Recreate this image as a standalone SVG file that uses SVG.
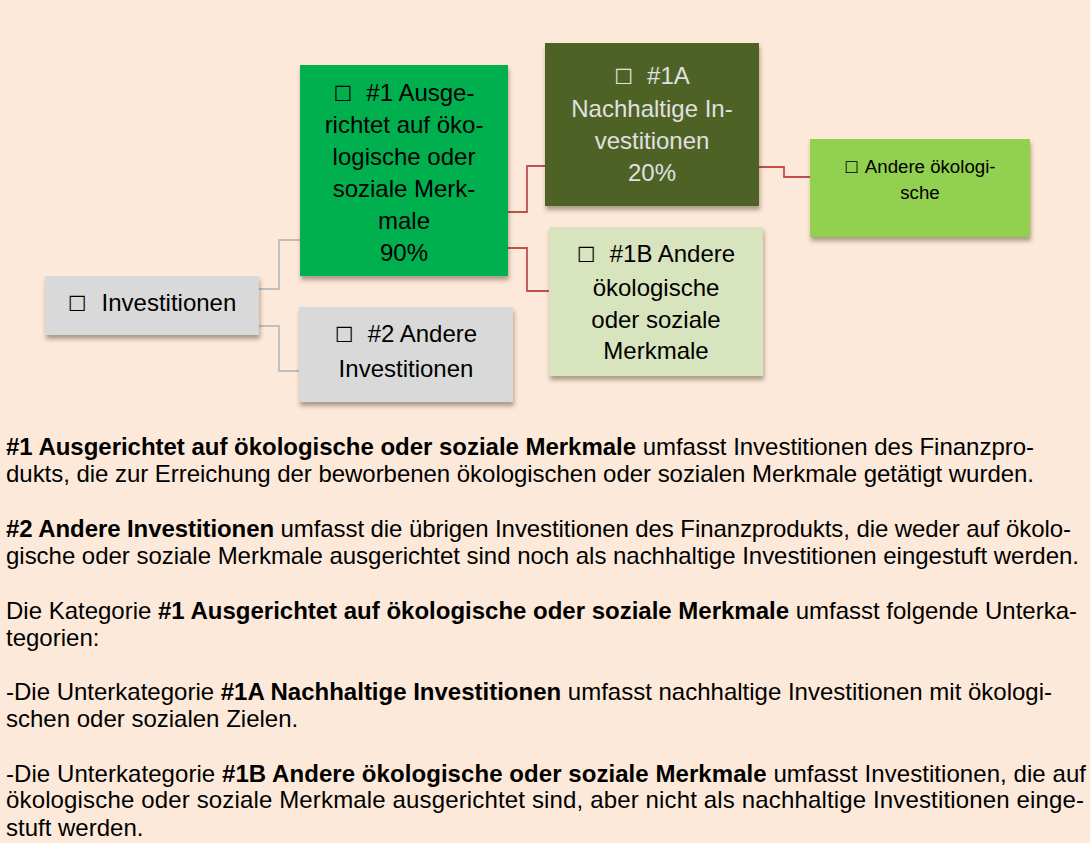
<svg xmlns="http://www.w3.org/2000/svg" width="1090" height="843" viewBox="0 0 1090 843">
<style>
.t{font-family:"Liberation Sans",Arial,sans-serif;font-size:24px;fill:#000}
.c{text-anchor:middle}
.w{fill:#E0E0E0}
.s{font-size:18.67px}
.cb{font-family:"DejaVu Sans",sans-serif;font-size:21px}
.b{font-weight:bold}
.gc{fill:none;stroke:#BFBFBF;stroke-width:1.8}
.rc{fill:none;stroke:#C0504D;stroke-width:1.8}
</style>
<defs>
<filter id="sh" x="-10%" y="-10%" width="130%" height="140%">
<feDropShadow dx="1" dy="4" stdDeviation="2" flood-color="#3a2a1a" flood-opacity="0.42"/>
</filter>
</defs>
<rect x="0" y="0" width="1090" height="843" fill="#FDE9D9"/>
<g id="connectors">
<path class="gc" d="M259,289 H279 V240 H300"/>
<path class="gc" d="M259,326 H279 V371 H299"/>
<path class="rc" d="M506,212 H527 V166 H545"/>
<path class="rc" d="M506,248 H527 V291 H549"/>
<path class="rc" d="M759,167 H784 V177 H810"/>
</g>
<g id="node-investitionen">
<rect x="45" y="276" width="214" height="59" fill="#D9D9D9" filter="url(#sh)"/>
<text class="t c" x="152" y="311"><tspan class="cb">☐</tspan><tspan dx="15">Investitionen</tspan></text>
</g>
<g id="node-1">
<rect x="300" y="65" width="208" height="211" fill="#00B050" filter="url(#sh)"/>
<text class="t c" x="404" y="101"><tspan class="cb">☐</tspan><tspan dx="14">#1 Ausge-</tspan></text>
<text class="t c" x="404" y="133">richtet auf öko-</text>
<text class="t c" x="404" y="165">logische oder</text>
<text class="t c" x="404" y="197">soziale Merk-</text>
<text class="t c" x="404" y="229">male</text>
<text class="t c" x="404" y="261">90%</text>
</g>
<g id="node-2">
<rect x="299" y="307" width="214" height="95" fill="#D9D9D9" filter="url(#sh)"/>
<text class="t c" x="406" y="342"><tspan class="cb">☐</tspan><tspan dx="14">#2 Andere</tspan></text>
<text class="t c" x="406" y="377">Investitionen</text>
</g>
<g id="node-1a">
<rect x="545" y="43" width="214" height="163" fill="#4F6228" filter="url(#sh)"/>
<text class="t c w" x="652" y="84"><tspan class="cb w">☐</tspan><tspan dx="14">#1A</tspan></text>
<text class="t c w" x="652" y="117">Nachhaltige In-</text>
<text class="t c w" x="652" y="149">vestitionen</text>
<text class="t c w" x="652" y="181">20%</text>
</g>
<g id="node-1b">
<rect x="549" y="227" width="214" height="149" fill="#D7E4BD" filter="url(#sh)"/>
<text class="t c" x="656" y="262"><tspan class="cb">☐</tspan><tspan dx="14">#1B Andere</tspan></text>
<text class="t c" x="656" y="296">ökologische</text>
<text class="t c" x="656" y="328">oder soziale</text>
<text class="t c" x="656" y="359">Merkmale</text>
</g>
<g id="node-andere">
<rect x="810" y="139" width="220" height="98" fill="#92D050" filter="url(#sh)"/>
<text class="t c s" x="920" y="173"><tspan class="cb" style="font-size:16px">☐</tspan><tspan dx="6">Andere ökologi-</tspan></text>
<text class="t c s" x="920" y="199">sche</text>
</g>
<g id="text">
<text class="t" x="6" y="455" textLength="1028" lengthAdjust="spacing"><tspan class="b">#1 Ausgerichtet auf ökologische oder soziale Merkmale</tspan> umfasst Investitionen des Finanzpro-</text>
<text class="t" x="6" y="482" textLength="1028" lengthAdjust="spacing">dukts, die zur Erreichung der beworbenen ökologischen oder sozialen Merkmale getätigt wurden.</text>
<text class="t" x="6" y="537" textLength="1065" lengthAdjust="spacing"><tspan class="b">#2 Andere Investitionen</tspan> umfasst die übrigen Investitionen des Finanzprodukts, die weder auf ökolo-</text>
<text class="t" x="6" y="564" textLength="1073" lengthAdjust="spacing">gische oder soziale Merkmale ausgerichtet sind noch als nachhaltige Investitionen eingestuft werden.</text>
<text class="t" x="6" y="619" textLength="1071" lengthAdjust="spacing">Die Kategorie <tspan class="b">#1 Ausgerichtet auf ökologische oder soziale Merkmale</tspan> umfasst folgende Unterka-</text>
<text class="t" x="6" y="646">tegorien:</text>
<text class="t" x="6" y="700" textLength="1046" lengthAdjust="spacing">-Die Unterkategorie <tspan class="b">#1A Nachhaltige Investitionen</tspan> umfasst nachhaltige Investitionen mit ökologi-</text>
<text class="t" x="6" y="727">schen oder sozialen Zielen.</text>
<text class="t" x="6" y="782" textLength="1080" lengthAdjust="spacing">-Die Unterkategorie <tspan class="b">#1B Andere ökologische oder soziale Merkmale</tspan> umfasst Investitionen, die auf</text>
<text class="t" x="6" y="808" textLength="1078" lengthAdjust="spacing">ökologische oder soziale Merkmale ausgerichtet sind, aber nicht als nachhaltige Investitionen einge-</text>
<text class="t" x="6" y="836">stuft werden.</text>
</g>
</svg>
